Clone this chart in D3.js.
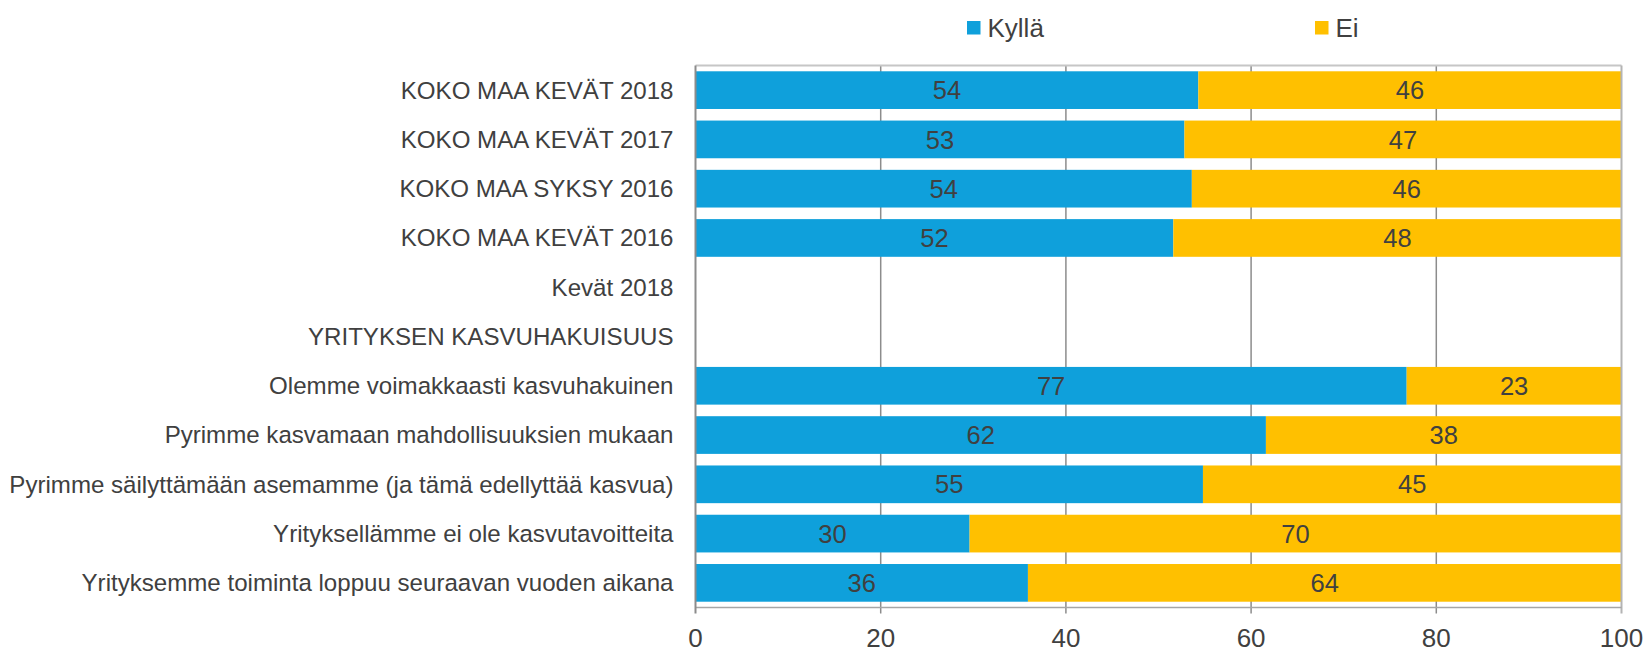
<!DOCTYPE html>
<html>
<head>
<meta charset="utf-8">
<script src="https://cdn.jsdelivr.net/npm/d3@7"></script>
<style>
  body { margin: 0; background: #fff; }
  svg { display: block; font-family: "Liberation Sans", Arial, sans-serif; }
</style>
</head>
<body>
<svg width="1650" height="652"></svg>
<script>
// rows, top to bottom
const categories = [
    "KOKO MAA KEVÄT 2018",
    "KOKO MAA KEVÄT 2017",
    "KOKO MAA SYKSY 2016",
    "KOKO MAA KEVÄT 2016",
    "Kevät 2018",
    "YRITYKSEN KASVUHAKUISUUS",
    "Olemme voimakkaasti kasvuhakuinen",
    "Pyrimme kasvamaan mahdollisuuksien mukaan",
    "Pyrimme säilyttämään asemamme (ja tämä edellyttää kasvua)",
    "Yrityksellämme ei ole kasvutavoitteita",
    "Yrityksemme toiminta loppuu seuraavan vuoden aikana"
];
const kylla = [54.3, 52.8, 53.6, 51.6, null, null, 76.8, 61.6, 54.8, 29.6, 35.9];
const ei    = [45.7, 47.2, 46.4, 48.4, null, null, 23.2, 38.4, 45.2, 70.4, 64.1];
const xTicks = [0, 20, 40, 60, 80, 100];

const seriesNames = ["Kyllä", "Ei"];
const colors = {"Kyllä": "#0fa0db", "Ei": "#ffc000"};
const textColor = "#404040";

const svg = d3.select("svg");
const margin = {top: 65.5, right: 28.5, bottom: 44.5, left: 695.5};
const width = +svg.attr("width") - margin.left - margin.right;
const height = +svg.attr("height") - margin.top - margin.bottom;
const g = svg.append("g").attr("transform", `translate(${margin.left},${margin.top})`);

const x = d3.scaleLinear().domain([0, 100]).range([0, width]);
const y = d3.scaleBand().domain(categories).range([0, height])
    .paddingInner(0.235).paddingOuter(0.1175);

// stacked data
const rows = categories.map((c, i) => ({cat: c, "Kyllä": kylla[i], "Ei": ei[i]}))
    .filter(d => d["Kyllä"] != null);
const stack = d3.stack().keys(seriesNames)(rows);

// gridlines (with little ticks below the axis)
g.selectAll(".grid")
    .data(xTicks.slice(1, -1))
    .enter().append("line")
    .attr("x1", d => x(d)).attr("x2", d => x(d))
    .attr("y1", 0).attr("y2", height + 6)
    .attr("stroke", "#8c8c8c").attr("stroke-width", 1.5);

// bars
const layer = g.selectAll(".layer")
    .data(stack)
    .enter().append("g")
    .attr("fill", d => colors[d.key]);

layer.selectAll("rect")
    .data(d => d)
    .enter().append("rect")
    .attr("x", d => x(d[0]))
    .attr("width", d => x(d[1]) - x(d[0]))
    .attr("y", d => y(d.data.cat))
    .attr("height", y.bandwidth());

// value labels
stack.forEach(s => {
    g.selectAll(".lbl-" + s.key)
        .data(s)
        .enter().append("text")
        .attr("x", d => x((d[0] + d[1]) / 2))
        .attr("y", d => y(d.data.cat) + y.bandwidth() / 2)
        .attr("dy", "0.36em")
        .attr("text-anchor", "middle")
        .attr("font-size", 25.5)
        .attr("fill", textColor)
        .text(d => Math.round(d[1] - d[0]));
});

// frame
g.append("line").attr("x1", 0).attr("x2", width).attr("y1", 0).attr("y2", 0)
    .attr("stroke", "#c6c6c6").attr("stroke-width", 2);
g.append("line").attr("x1", width).attr("x2", width).attr("y1", 0).attr("y2", height + 6)
    .attr("stroke", "#b4b4b4").attr("stroke-width", 2);
g.append("line").attr("x1", 0).attr("x2", width).attr("y1", height).attr("y2", height)
    .attr("stroke", "#a6a6a6").attr("stroke-width", 1.5);
g.append("line").attr("x1", 0).attr("x2", 0).attr("y1", 0).attr("y2", height + 6)
    .attr("stroke", "#8c8c8c").attr("stroke-width", 2);

// x tick labels
g.selectAll(".xlbl")
    .data(xTicks)
    .enter().append("text")
    .attr("x", d => x(d))
    .attr("y", height + 39.5)
    .attr("text-anchor", "middle")
    .attr("font-size", 26)
    .attr("fill", textColor)
    .text(d => d);

// category labels
g.selectAll(".ylbl")
    .data(categories)
    .enter().append("text")
    .attr("x", -22)
    .attr("y", d => y(d) + y.bandwidth() / 2)
    .attr("dy", "0.35em")
    .attr("text-anchor", "end")
    .attr("font-size", 24.1)
    .attr("fill", textColor)
    .text(d => d);

// legend
const legendX = [967, 1315];
const legend = svg.selectAll(".legend")
    .data(seriesNames)
    .enter().append("g")
    .attr("transform", (d, i) => `translate(${legendX[i]},21)`);
legend.append("rect")
    .attr("width", 13.5).attr("height", 13.5)
    .attr("fill", d => colors[d]);
legend.append("text")
    .attr("x", 20.5)
    .attr("y", 15.5)
    .attr("font-size", 26)
    .attr("fill", textColor)
    .text(d => d);
</script>
</body>
</html>
